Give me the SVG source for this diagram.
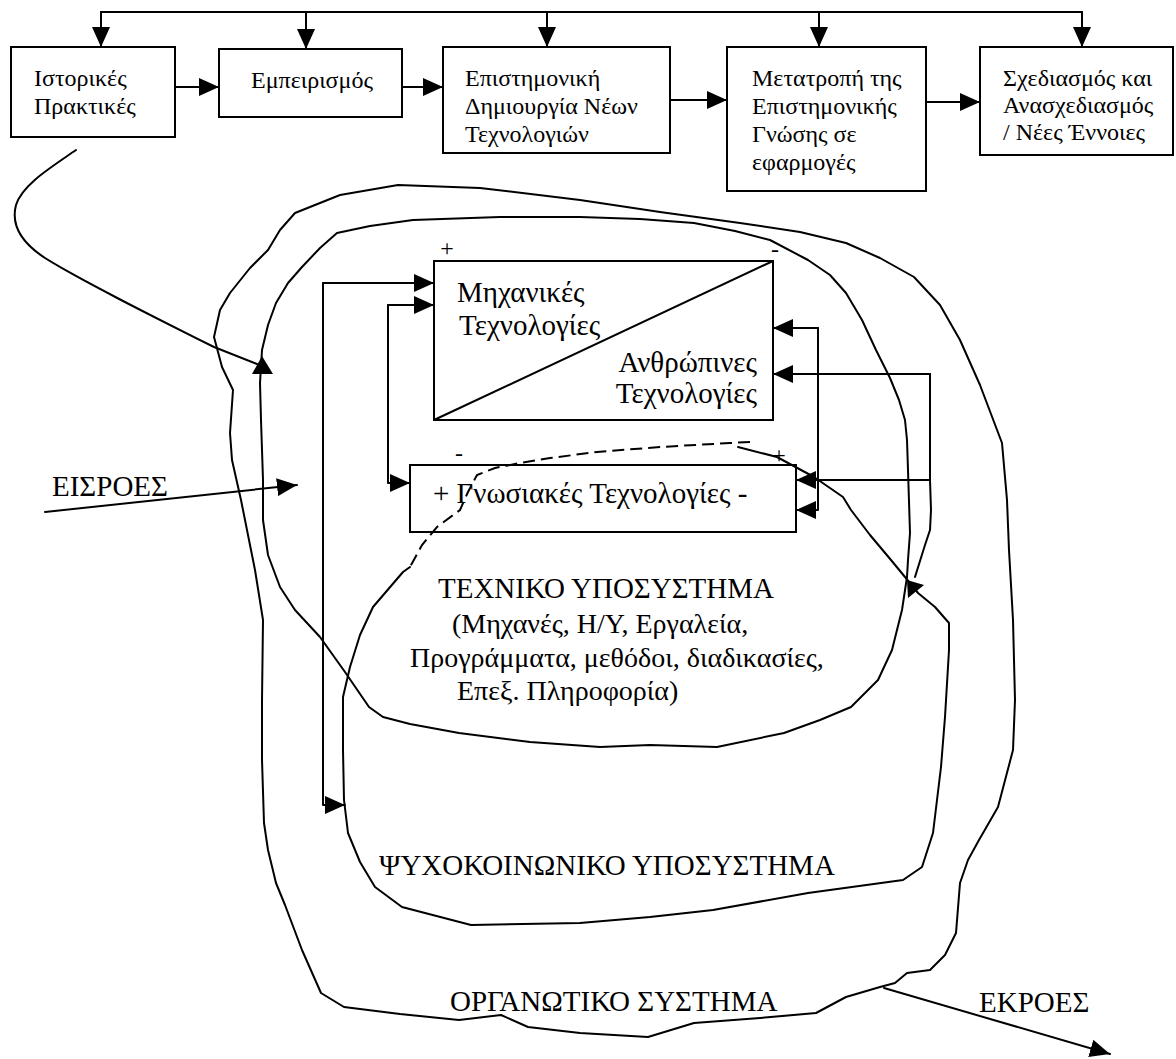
<svg xmlns="http://www.w3.org/2000/svg" width="1176" height="1059" viewBox="0 0 1176 1059">
  <style>
    .ln { fill: none; stroke: #000; stroke-width: 2; stroke-linejoin: round; stroke-linecap: round; }
    .dash { fill: none; stroke: #000; stroke-width: 2; stroke-dasharray: 12 6; }
    .bx { fill: none; stroke: #000; stroke-width: 2; }
    text { font-family: "Liberation Serif", "Times New Roman", serif; fill: #000; }
    .s24 { font-size: 24px; }
    .s29 { font-size: 29px; }
    .s28 { font-size: 28px; }
    .sg { font-size: 24px; text-anchor: middle; }
  </style>
  <defs>
    <marker id="ah" viewBox="0 0 20 18" refX="20" refY="9" markerWidth="20" markerHeight="18" markerUnits="userSpaceOnUse" orient="auto">
      <path d="M0,0 L20,9 L0,18 Z" fill="#000"/>
    </marker>
  </defs>
  <rect width="1176" height="1059" fill="#fff"/>

  <!-- nested system boundaries -->
  <g id="organizational-system">
    <path class="ln" d="M398,185 L480,188 L580,200 L660,212 L740,223 L800,232 L846,243 L880,258 L914,277 L940,305 L960,340 L980,385 L1002,443 L1007,500 L1009,550 L1013,620 L1015,700 L1013,750 L998,807 L979,840 L968,860 L960,883 L956,933 L945,955 L930,970 L907,973 L895,983 L880,987 L846,997 L816,1013 L760,1018 L694,1023 L648,1037 L580,1033 L528,1027 L501,1015 L459,1020 L400,1014 L344,1007 L321,993 L302,950 L285,905 L276,883 L268,850 L264,823 L262,760 L262,700 L263,620 L255,570 L241,500 L232,460 L230,433 L233,390 L222,367 L214,337 L220,310 L230,293 L250,268 L268,250 L280,230 L295,213 L340,195 Z"/>
    <text class="s29" x="450" y="1011">ΟΡΓΑΝΩΤΙΚΟ ΣΥΣΤΗΜΑ</text>
  </g>

  <g id="technical-subsystem">
    <path class="ln" d="M413,220 L500,217 L580,217 L640,219 L694,223 L735,231 L770,240 L808,260 L830,275 L846,293 L862,320 L876,350 L890,378 L899,400 L905,420 L907,440 L908,470 L910,533 L908,560 L907,577 L902,610 L892,650 L878,680 L851,707 L820,720 L784,733 L717,747 L650,745 L600,747 L530,742 L459,733 L410,724 L383,717 L369,707 L345,672 L320,637 L295,610 L280,587 L268,555 L263,520 L263,480 L261,420 L260,383 L262,350 L268,325 L276,303 L288,283 L302,267 L320,248 L337,233 L370,226 Z"/>
    <polygon points="252,374 273,374 262,356" fill="#000"/>
    <text class="s29" x="438" y="598">ΤΕΧΝΙΚΟ ΥΠΟΣΥΣΤΗΜΑ</text>
    <text class="s28" x="452" y="633">(Μηχανές, Η/Υ, Εργαλεία,</text>
    <text class="s28" x="410" y="667">Προγράμματα, μεθόδοι, διαδικασίες,</text>
    <text class="s28" x="457" y="700">Επεξ. Πληροφορία)</text>
  </g>

  <g id="psychosocial-subsystem">
    <path class="dash" d="M750,442 L730,443 L660,447 L597,452 L550,458 L520,463 L495,468 L477,475 L468,492 L460,510 L437,527 L422,545 L410,567"/>
    <path class="ln" d="M410,567 L403,572 L373,607 L360,635 L350,667 L343,697 L343,750 L344,800 L348,833 L360,862 L375,887 L402,907 L471,925 L580,923 L650,917 L713,910 L808,893 L903,880 L922,867 L933,833 L941,767 L945,717 L949,650 L949,623 L935,607 L918,593 L905,577 L891,560 L870,535 L851,510 L843,497 L814,477 L777,457 L738,447"/>
    <polygon points="907,580 924,585 908,598" fill="#000"/>
    <text class="s29" x="379" y="875">ΨΥΧΟΚΟΙΝΩΝΙΚΟ ΥΠΟΣΥΣΤΗΜΑ</text>
  </g>

  <!-- development stages -->
  <g id="historical-practices">
    <rect class="bx" x="11" y="47" width="164" height="90"/>
    <text class="s24" x="34" y="86">Ιστορικές</text>
    <text class="s24" x="34" y="114">Πρακτικές</text>
  </g>
  <g id="empiricism">
    <rect class="bx" x="219" y="49" width="183" height="68"/>
    <text class="s24" x="251" y="88">Εμπειρισμός</text>
  </g>
  <g id="scientific-creation">
    <rect class="bx" x="443" y="47" width="227" height="106"/>
    <text class="s24" x="465" y="86">Επιστημονική</text>
    <text class="s24" x="465" y="114">Δημιουργία Νέων</text>
    <text class="s24" x="465" y="142">Τεχνολογιών</text>
  </g>
  <g id="knowledge-transfer">
    <rect class="bx" x="727" y="47" width="199" height="144"/>
    <text class="s24" x="752" y="86">Μετατροπή της</text>
    <text class="s24" x="752" y="114">Επιστημονικής</text>
    <text class="s24" x="752" y="142">Γνώσης σε</text>
    <text class="s24" x="752" y="170">εφαρμογές</text>
  </g>
  <g id="design-redesign">
    <rect class="bx" x="980" y="47" width="193" height="108"/>
    <text class="s24" x="1003" y="86">Σχεδιασμός και</text>
    <text class="s24" x="1003" y="113">Ανασχεδιασμός</text>
    <text class="s24" x="1003" y="140">/ Νέες Έννοιες</text>
  </g>

  <!-- technology blocks -->
  <g id="mechanical-human">
    <rect class="bx" x="434" y="261" width="339" height="159"/>
    <line class="ln" x1="434" y1="420" x2="773" y2="261"/>
    <text class="sg" x="447" y="256">+</text>
    <text class="sg" x="775" y="257">-</text>
    <text class="s29" x="457" y="302">Μηχανικές</text>
    <text class="s29" x="459" y="335">Τεχνολογίες</text>
    <text class="s29" x="757" y="372" text-anchor="end">Ανθρώπινες</text>
    <text class="s29" x="757" y="403" text-anchor="end">Τεχνολογίες</text>
  </g>
  <g id="cognitive">
    <rect class="bx" x="410" y="465" width="386" height="67"/>
    <text class="sg" x="459" y="461">-</text>
    <text class="sg" x="779" y="463">+</text>
    <text class="s29" x="433" y="503">+ Γνωσιακές Τεχνολογίες -</text>
  </g>

  <!-- inputs and outputs -->
  <g id="inputs">
    <text class="s29" x="52" y="496">ΕΙΣΡΟΕΣ</text>
  </g>
  <g id="outputs">
    <text class="s29" x="979" y="1012">ΕΚΡΟΕΣ</text>
  </g>

  <g id="connectors">
    <!-- feedback bus over the stages -->
    <path class="ln" d="M101,12 H1082"/>
    <path class="ln" d="M101,12 V47" marker-end="url(#ah)"/>
    <path class="ln" d="M306,12 V49" marker-end="url(#ah)"/>
    <path class="ln" d="M547,12 V47" marker-end="url(#ah)"/>
    <path class="ln" d="M819,12 V47" marker-end="url(#ah)"/>
    <path class="ln" d="M1082,12 V47" marker-end="url(#ah)"/>
    <!-- stage sequence -->
    <path class="ln" d="M176,87 H219" marker-end="url(#ah)"/>
    <path class="ln" d="M403,87 H443" marker-end="url(#ah)"/>
    <path class="ln" d="M671,100 H727" marker-end="url(#ah)"/>
    <path class="ln" d="M927,102 H980" marker-end="url(#ah)"/>
    <!-- history into the technical subsystem -->
    <path class="ln" d="M76,150 C50,168 22,185 16,205 C10,228 25,245 45,258 C80,280 150,315 214,347 L257,364"/>
    <!-- left loops -->
    <path class="ln" d="M323,283 H434" marker-end="url(#ah)"/>
    <path class="ln" d="M323,283 V805 H345" marker-end="url(#ah)"/>
    <path class="ln" d="M388,305 H434" marker-end="url(#ah)"/>
    <path class="ln" d="M388,305 V483 H410" marker-end="url(#ah)"/>
    <!-- right loops -->
    <path class="ln" d="M818,328 H773" marker-end="url(#ah)"/>
    <path class="ln" d="M818,328 V510 H796" marker-end="url(#ah)"/>
    <path class="ln" d="M930,374 H773" marker-end="url(#ah)"/>
    <path class="ln" d="M930,374 V480 H796" marker-end="url(#ah)"/>
    <path class="ln" d="M930,480 L931,510 L930,530 L925,545 L915,577"/>
    <!-- system inputs and outputs -->
    <path class="ln" d="M45,512 L297,485" marker-end="url(#ah)"/>
    <path class="ln" d="M884,988 L1110,1054" marker-end="url(#ah)"/>
  </g>
</svg>
